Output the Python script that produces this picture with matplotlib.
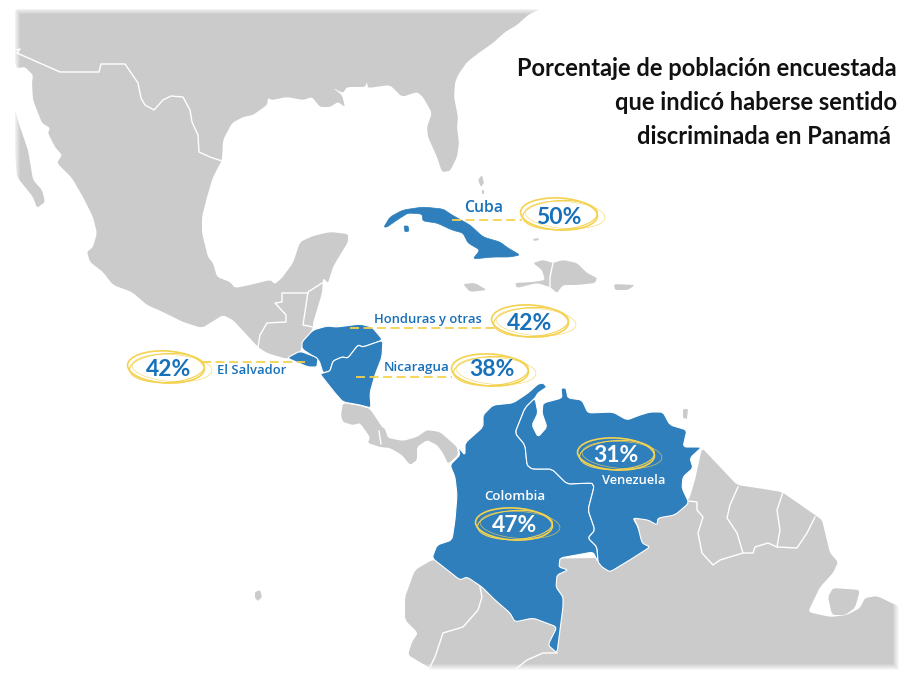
import numpy as np
import matplotlib
matplotlib.use("Agg")
import matplotlib.pyplot as plt
from matplotlib.patches import Ellipse, PathPatch
from matplotlib.path import Path

# ---- data: survey values ----
countries = ["Cuba", "Honduras y otras", "Nicaragua", "El Salvador", "Venezuela", "Colombia"]
percent = [50, 42, 38, 42, 31, 47]
title_lines = ["Porcentaje de población encuestada", "que indicó haberse sentido", "discriminada en Panamá "]

# ---- data: map outlines (picture coordinates) ----
north_america = [(15,9),(540,9),(528,15),(517,25),(505,32),(493,43),(480,52),(467,62),(458,75),(455,83),(454,97),(458,117),(457,127),(459,143),(457,157),(450,171),(442,172),(437,157),(428,137),(427,127),(432,113),(423,97),(417,92),(402,97),(390,85),(368,88),(367,82),(365,87),(347,87),(343,93),(333,88),(342,95),(345,107),(338,102),(330,107),(320,107),(312,97),(303,100),(287,97),(272,100),(268,98),(267,105),(253,115),(243,117),(232,123),(223,140),(222,160),(213,177),(207,197),(202,217),(202,233),(208,257),(213,263),(217,277),(230,282),(235,288),(250,285),(270,280),(275,284),(282,278),(293,263),(300,242),(313,236),(330,232),(348,234),(348,242),(337,260),(333,267),(328,283),(323,278),(322,293),(313,323),(313,328),(302,345),(300,352),(287,359),(267,353),(258,347),(233,320),(223,315),(202,328),(183,322),(163,312),(147,305),(132,292),(113,285),(103,272),(90,262),(87,252),(93,247),(97,233),(93,217),(83,197),(72,178),(57,163),(62,155),(55,147),(48,133),(50,128),(42,123),(33,100),(32,83),(33,75),(25,67),(17,68),(15,63)]
baja = [(15,110),(20,127),(28,150),(33,180),(42,190),(45,202),(37,208),(33,197),(17,177),(15,153)]
central_south = [(343,403),(360,406),(370,409),(382,427),(385,429),(388,438),(403,441),(417,437),(427,430),(440,432),(457,447),(458,455),(448,464),(443,453),(437,445),(427,440),(417,447),(417,460),(410,465),(402,455),(390,448),(380,447),(368,443),(370,437),(360,423),(353,425),(343,422),(341,415)]
south_america = [(430,668),(408,655),(412,642),(418,633),(405,620),(405,597),(415,570),(432,560),(600,558),(640,530),(634,517),(660,515),(689,500),(695,480),(702,448),(720,467),(737,485),(757,488),(782,492),(815,515),(822,520),(830,553),(838,562),(833,573),(820,587),(808,612),(830,617),(847,615),(860,608),(865,598),(877,596),(900,607),(900,673),(430,673)]
marajo = [(828,597),(833,588),(860,590),(855,608),(845,615),(832,615)]
trinidad = [(683,409),(688,409),(687,419),(683,418)]
hispaniola = [(533,263),(543,260),(553,263),(563,260),(577,263),(587,273),(597,278),(595,283),(577,285),(563,285),(557,293),(550,287),(537,283),(517,288),(515,283),(533,282),(545,280),(542,270)]
jamaica = [(463,284),(475,283),(487,290),(470,292)]
puerto_rico = [(614,284),(635,285),(628,290),(615,290)]
bahamas = [(478,180),(482,175),(484,183),(481,187)]
bahamas2 = [(482,190),(484,190),(484,194),(482,194)]
turks = [(533,239),(538,238),(539,240),(534,241)]
galapagos = [(255,592),(260,590),(262,597),(258,601),(255,598)]

cuba = [(384,227),(390,217),(403,210),(423,207),(443,209),(452,215),(470,225),(483,237),(500,242),(508,248),(520,255),(510,257),(493,257),(473,259),(480,250),(468,243),(463,233),(452,230),(437,223),(423,221),(422,214),(408,213),(397,220),(387,227)]
juventud = [(404,226),(408,226),(409,231),(405,232)]
honduras = [(302,342),(313,330),(327,326),(337,327),(360,324),(372,327),(383,340),(363,347),(358,345),(348,358),(342,357),(333,361),(330,371),(323,373),(319,360),(302,349)]
el_salvador = [(300,351),(318,358),(317,367),(308,367),(287,358)]
nicaragua = [(383,340),(382,357),(375,375),(370,393),(371,408),(360,405),(343,402),(335,393),(320,374),(323,373),(330,371),(333,361),(342,357),(348,358),(358,345),(363,347)]
colombia = [(543,383),(547,387),(538,393),(535,398),(525,408),(515,433),(525,445),(527,465),(532,469),(552,469),(567,484),(592,483),(594,487),(588,510),(595,530),(588,538),(597,547),(598,562),(593,552),(560,558),(559,567),(568,570),(557,575),(556,587),(563,597),(563,607),(557,653),(548,645),(557,627),(533,618),(515,622),(510,613),(495,600),(482,587),(467,577),(460,580),(432,558),(437,545),(452,540),(455,520),(457,495),(455,477),(450,465),(460,455),(458,447),(465,455),(465,443),(483,427),(483,415),(493,405),(513,403),(528,393),(538,384)]
venezuela = [(535,398),(538,413),(532,425),(538,437),(547,427),(542,413),(543,403),(562,398),(561,388),(566,388),(568,398),(582,400),(588,413),(613,412),(627,420),(640,415),(650,412),(663,412),(670,425),(687,430),(683,447),(702,447),(690,458),(693,468),(683,477),(682,488),(689,503),(675,515),(658,518),(657,525),(648,520),(633,518),(638,527),(642,543),(650,547),(633,558),(610,572),(602,567),(598,562),(597,547),(588,538),(595,530),(588,510),(594,487),(592,483),(567,484),(552,469),(532,469),(527,465),(525,445),(515,433),(525,408)]

# ---- data: white borders on the grey land ----
borders = [
    [(15,50),(20,49),(17,53),(60,72),(99,72),(101,64),(125,64),(138,83),(141,98),(145,105),(154,110),(163,100),(171,96),(183,97),(190,110),(192,122),(198,135),(199,152),(210,157),(222,161)],
    [(308,293),(282,293),(282,302),(275,303),(286,315),(286,322),(267,323),(260,335),(258,347)],
    [(322,283),(308,292),(303,325),(313,327)],
    [(379,431),(381,444)],
    [(553,263),(550,277),(550,287)],
    [(480,587),(482,597),(478,610),(463,627),(443,633),(435,657),(430,667)],
    [(557,653),(543,653),(527,660),(517,668)],
    [(689,501),(697,502),(697,510),(703,517),(698,533),(702,553),(713,565),(720,560),(743,553),(737,533),(727,518),(730,505),(738,487)],
    [(743,553),(753,553),(755,547),(768,543),(777,547),(780,530),(777,510),(783,492)],
    [(777,547),(797,548),(807,533),(815,517)],
]

# ---- placement ----
pct_xy = [(559,217),(530,324),(492,370),(169,369),(616,456),(515,525)]
name_xy = [(484,208),(428,320),(417,367),(252,371),(634,480),(515,496)]
name_size = [11.3, 9.4, 9.6, 9.4, 9.3, 9.6]
ring_xy = [(559,214),(530,321),(490,370),(166,367),(616,454),(514,524)]
leader = [((452,522),220),((350,495),328),((356,452),376.5),((202,305),362),None,None]
on_map = [False,False,False,False,True,True]

GREY, BLUE, TEXT, GOLD = "#CBCBCB", "#2F7FBD", "#1670BA", "#F4D250"


def rounded(points, cut=0.22, reach=4.0):
    """Closed outline: straight edges with each corner rounded by a short quadratic curve."""
    p = np.asarray(points, dtype=float)

    def toward(a, b):
        length = np.linalg.norm(b - a, axis=1, keepdims=True)
        return a + np.minimum(cut, reach / np.maximum(length, 1e-6)) * (b - a)

    enter = toward(p, np.roll(p, 1, axis=0))
    leave = toward(p, np.roll(p, -1, axis=0))
    verts = [enter[0]]
    codes = [Path.MOVETO]
    for i in range(len(p)):
        verts += [p[i], leave[i]]
        codes += [Path.CURVE3, Path.CURVE3]
        verts.append(enter[(i + 1) % len(p)])
        codes.append(Path.LINETO)
    return Path(verts, codes)


fig = plt.figure(figsize=(9, 6.73), dpi=100)
ax = fig.add_axes([0, 0, 1, 1])
ax.axis("off")

for shp in [north_america, baja, south_america, marajo, central_south, trinidad, hispaniola,
            jamaica, puerto_rico, bahamas, bahamas2, turks, galapagos]:
    ax.add_patch(PathPatch(rounded(shp), fc=GREY, ec="none", zorder=1))
for b in borders:
    x, y = zip(*b)
    ax.plot(x, y, color="white", lw=1.0, zorder=2, solid_joinstyle="round")

# soft fade of the picture's edges
H, W = 673, 900
yy, xx = np.mgrid[0:H, 0:W]
d = np.minimum.reduce([xx - 13.0, yy - 7.0, 899.0 - xx, 670.0 - yy])
fade = np.zeros((H, W, 4))
fade[..., :3] = 1
fade[..., 3] = np.clip(1 - d / 7.0, 0, 1)
ax.imshow(fade, extent=(0, W, H, 0), zorder=3, aspect="auto")
ax.set_xlim(0, 900)
ax.set_ylim(673, 0)

for shp in [cuba, juventud]:
    ax.add_patch(PathPatch(rounded(shp), fc=BLUE, ec=BLUE, lw=0.5, zorder=4))
for shp in [honduras, el_salvador, nicaragua, colombia, venezuela]:
    ax.add_patch(PathPatch(rounded(shp), fc=BLUE, ec="white", lw=0.8, zorder=4, joinstyle="round"))

for name, val, pxy, nxy, nsize, rxy, lead, inside in zip(countries, percent, pct_xy, name_xy, name_size, ring_xy, leader, on_map):
    col = "white" if inside else TEXT
    cx, cy = rxy
    ax.add_patch(Ellipse((cx, cy), 77, 32, angle=3, fc="none", ec=GOLD, lw=1.2, zorder=5))
    ax.add_patch(Ellipse((cx + 1, cy + 1), 75, 29, angle=-3, fc="none", ec=GOLD, lw=0.8, zorder=5))
    ax.add_patch(Ellipse((cx + 6, cy + 1), 80, 27, angle=4, fc="none", ec=GOLD, lw=0.5, alpha=0.8, zorder=5))
    if lead:
        (x0, x1), y = lead
        ax.plot([x0, x1], [y, y], color=GOLD, lw=1.3, ls=(0, (5, 2.5)), zorder=5)
    ax.text(*pxy, f"{val}%", color=col, fontsize=16.5, fontweight="bold", family="Lato",
            ha="center", va="center", zorder=6)
    ax.text(*nxy, name, color=col, fontsize=nsize, fontweight="semibold", family="Open Sans",
            ha="center", va="center", zorder=6)

for line, y in zip(title_lines, [68, 103, 137]):
    ax.text(897, y, line, color="#111111", fontsize=17, fontweight="bold", family="Lato",
            ha="right", va="center", zorder=6)

fig.savefig("out.png", dpi=100, facecolor="white")
